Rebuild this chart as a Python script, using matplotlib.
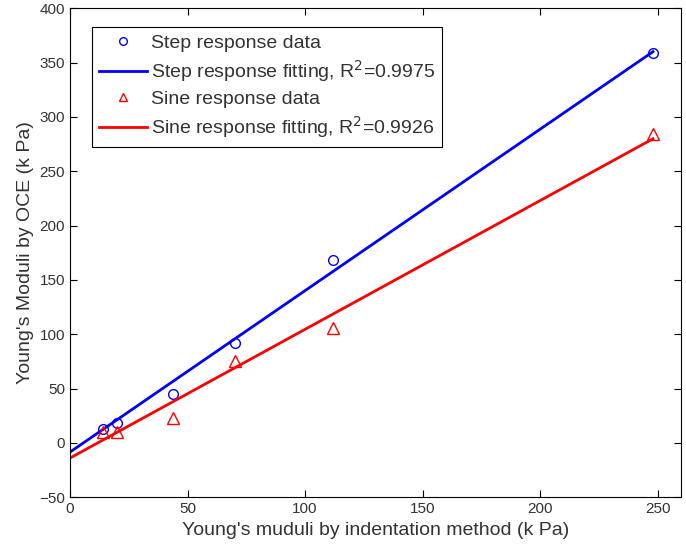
import numpy as np
import matplotlib
matplotlib.use('Agg')
import matplotlib.pyplot as plt

plt.rcParams['font.family'] = ['Liberation Sans', 'DejaVu Sans']

# Indentation modulus (kPa) for the samples
indent = [14, 20, 44, 70, 112, 248]
# OCE moduli (kPa)
step_data = [13, 18, 45, 92, 168, 359]
sine_data = [10, 10, 23, 75, 106, 284]

# linear fits (slope, intercept)
step_fit = (1.486, -8.5)
sine_fit = (1.185, -14.0)
step_r2 = 0.9975
sine_r2 = 0.9926

x_fit = np.linspace(0, max(indent), 200)

fig = plt.figure(figsize=(6.86, 5.5), dpi=100)
ax = fig.add_axes([0.102, 0.096, 0.891, 0.889])

ax.plot(indent, step_data, 'o', mfc='none', mec='blue', ms=7, mew=1,
        label='Step response data')
ax.plot(x_fit, step_fit[0] * x_fit + step_fit[1], '-', color='blue', lw=2,
        label='Step response fitting, R$^2$=%.4f' % step_r2)
ax.plot(indent, sine_data, '^', mfc='none', mec='red', ms=8.5, mew=1,
        label='Sine response data')
ax.plot(x_fit, sine_fit[0] * x_fit + sine_fit[1], '-', color='red', lw=2,
        label='Sine response fitting, R$^2$=%.4f' % sine_r2)

ax.set_xlim(0, 260)
ax.set_ylim(-50, 400)
ax.set_xticks([0, 50, 100, 150, 200, 250])
ax.set_yticks(range(-50, 401, 50))
ax.tick_params(direction='in', top=True, right=True, labelsize=11, length=5,
               labelcolor='#333333')
ax.set_xlabel("Young's muduli by indentation method (k Pa)", fontsize=14,
              color='#333333')
ax.set_ylabel("Young's Moduli by OCE (k Pa)", fontsize=14, color='#333333')

leg = ax.legend(loc='upper left', bbox_to_anchor=(0.036, 0.961), fontsize=14,
                handlelength=2.5, handletextpad=0.2, labelspacing=0.33,
                borderaxespad=0, borderpad=0.35, fancybox=False,
                edgecolor='black', framealpha=1)
leg.get_frame().set_linewidth(0.8)
for t in leg.get_texts():
    t.set_color('#333333')
for h in leg.legend_handles:
    h.set_markersize(5.5)

plt.savefig('out.png', dpi=100)
